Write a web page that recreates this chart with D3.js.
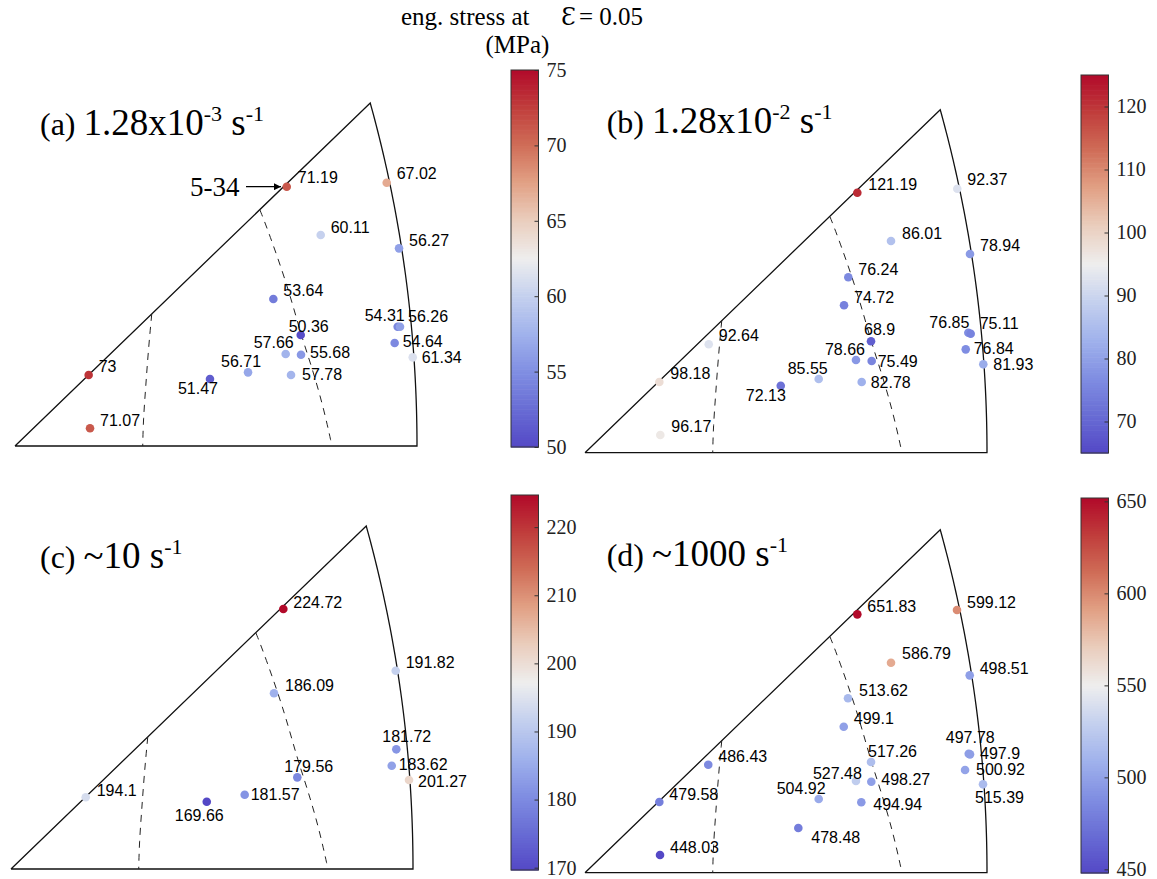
<!DOCTYPE html>
<html><head><meta charset="utf-8">
<script src="https://cdn.jsdelivr.net/npm/d3@7"></script>
<style>
body{margin:0;background:#fff}
svg{display:block}
text{white-space:pre}
</style>
</head><body>
<svg id="chart" width="1157" height="879"></svg>
<script>
// ---------------- DATA ----------------
// (a) 1.28x10^-3 s^-1 : stress values and stereographic orientation coordinates
const valuesA = [71.19, 67.02, 60.11, 56.27, 53.64, 50.36, 54.31, 56.26, 54.64, 61.34, 57.66, 55.68, 56.71, 51.47, 57.78, 73, 71.07];
const projXA  = [0.2800, 0.3830, 0.3150, 0.3957, 0.2662, 0.2944, 0.3943, 0.3967, 0.3912, 0.4098, 0.2789, 0.2947, 0.2401, 0.2009, 0.2844, 0.0759, 0.0773];
const projYA  = [0.2767, 0.2809, 0.2251, 0.2109, 0.1569, 0.1184, 0.1273, 0.1273, 0.1099, 0.0946, 0.0982, 0.0974, 0.0786, 0.0715, 0.0758, 0.0758, 0.0189];

// (b) 1.28x10^-2 s^-1
const valuesB = [121.19, 92.37, 86.01, 78.94, 76.24, 74.72, 68.9, 76.85, 75.11, 76.84, 81.93, 78.66, 75.49, 85.55, 72.13, 82.78, 92.64, 98.18, 96.17];
const projXB  = [0.2806, 0.3836, 0.3153, 0.3967, 0.2713, 0.2669, 0.2947, 0.3950, 0.3974, 0.3923, 0.4104, 0.2792, 0.2954, 0.2408, 0.2017, 0.2851, 0.1275, 0.0766, 0.0776];
const projYB  = [0.2774, 0.2817, 0.2259, 0.2120, 0.1872, 0.1573, 0.1189, 0.1280, 0.1270, 0.1103, 0.0943, 0.0989, 0.0978, 0.0786, 0.0715, 0.0754, 0.1157, 0.0754, 0.0189];

// (c) ~10 s^-1
const valuesC = [224.72, 191.82, 186.09, 181.72, 183.62, 201.27, 179.56, 181.57, 169.66, 194.1];
const projXC  = [0.2806, 0.3964, 0.2710, 0.3970, 0.3923, 0.4101, 0.2950, 0.2408, 0.2017, 0.0770];
const projYC  = [0.2774, 0.2116, 0.1875, 0.1277, 0.1102, 0.0950, 0.0978, 0.0793, 0.0718, 0.0765];

// (d) ~1000 s^-1
const valuesD = [651.83, 599.12, 586.79, 498.51, 513.62, 499.1, 497.78, 497.9, 500.92, 515.39, 517.26, 527.48, 498.27, 504.92, 494.94, 478.48, 486.43, 479.58, 448.03];
const projXD  = [0.2806, 0.3833, 0.3153, 0.3964, 0.2710, 0.2666, 0.3954, 0.3967, 0.3916, 0.4101, 0.2947, 0.2792, 0.2950, 0.2408, 0.2847, 0.2198, 0.1270, 0.0766, 0.0773];
const projYD  = [0.2757, 0.2803, 0.2241, 0.2106, 0.1861, 0.1558, 0.1270, 0.1263, 0.1096, 0.0943, 0.1181, 0.0978, 0.0971, 0.0786, 0.0751, 0.0477, 0.1152, 0.0754, 0.0189];

// colour-bar ranges and tick labels
const domainA = [50, 75];          const ticksA = [50, 55, 60, 65, 70, 75];
const domainB = [65, 125];         const ticksB = [70, 80, 90, 100, 110, 120];
const domainC = [169.66, 224.72];  const ticksC = [170, 180, 190, 200, 210, 220];
const domainD = [448.03, 651.83];  const ticksD = [450, 500, 550, 600, 650];

// panel titles: [label, rate, exponent]
const titleA = ["(a) ", "1.28x10", "-3"];
const titleB = ["(b) ", "1.28x10", "-2"];
const titleC = ["(c) ", "~10", null];
const titleD = ["(d) ", "~1000", null];

// ---------------- LAYOUT (label offsets in px) ----------------
const offA = [[11,-9],[10,-9],[10,-8],[10,-8],[10,-8],[-12,-9],[-33,-11],[8,-10],[8,-2],[9,0],[-32,-11],[9,-2],[-27,-11],[-32,10],[11,0],[10,-8],[10,-8]];
const offB = [[11,-8],[10,-9],[11,-8],[10,-9],[10,-8],[10,-8],[-7,-12],[-39,-10],[9,-10],[8,-1],[10,0],[-31,-11],[6,0],[-31,-11],[-35,10],[9,0],[10,-9],[11,-9],[11,-8]];
const offC = [[10,-7],[10,-8],[11,-8],[-14,-13],[7,-1],[9,2],[-13,-11],[6,0],[-32,14],[11,-7]];
const offD = [[10,-8],[10,-8],[11,-9],[10,-7],[11,-8],[10,-8],[-23,-16],[10,-1],[11,0],[-8,13],[-3,-11],[-43,-8],[10,-2],[-42,-11],[12,2],[13,9],[10,-8],[10,-8],[10,-7]];

// dashed guide curves in stereographic coordinates
const guide1 = [[0.1409,0.1408],[0.1374,0.1024],[0.1347,0.0633],[0.1322,0.0277],[0.1316,0]];
const guide2 = [[0.2524,0.2518],[0.2593,0.2340],[0.2764,0.1842],[0.2868,0.1486],[0.2954,0.1166],[0.3057,0.0846],[0.3177,0.0420],[0.3266,0]];

// diverging colormap stops
const cmapStops = ["#5448c6","#686cd4","#808ee2","#a0b2ec","#c4d0ee","#eeeeee","#eacebe","#e2a286","#d06e58","#c03e3c","#b20a2a"];

const panels = [
  {v:valuesA, px:projXA, py:projYA, off:offA, x0:15,  y0:446,   cbx:511,  cby:[70,447],  dom:domainA, ticks:ticksA, title:titleA, tx:40,    ty:135},
  {v:valuesB, px:projXB, py:projYB, off:offB, x0:585, y0:452.7, cbx:1081, cby:[75,453],  dom:domainB, ticks:ticksB, title:titleB, tx:606.7, ty:133.3},
  {v:valuesC, px:projXC, py:projYC, off:offC, x0:11,  y0:869,   cbx:511,  cby:[495,870], dom:domainC, ticks:ticksC, title:titleC, tx:40,    ty:568},
  {v:valuesD, px:projXD, py:projYD, off:offD, x0:585, y0:872.7, cbx:1081, cby:[498,873], dom:domainD, ticks:ticksD, title:titleD, tx:606.7, ty:566}
];

const svg = d3.select("#chart");
const SERIF = "'Liberation Serif','Times New Roman',serif";
const SANS = "'Liberation Sans',Arial,sans-serif";

const cmap = d3.scaleLinear()
  .domain(d3.range(cmapStops.length).map(i => i/(cmapStops.length-1)))
  .range(cmapStops).interpolate(d3.interpolateRgb).clamp(true);

// boundary of the standard triangle 001-101-111 (arc = projected great circle x=z)
const r2 = Math.SQRT2;
const arcPts = d3.range(0, 61).map(i => {
  const t = (15*Math.PI/180) * i/60;
  return [-1 + r2*Math.cos(t), r2*Math.sin(t)];
});
const p111 = [-1 + r2*Math.cos(Math.PI/12), r2*Math.sin(Math.PI/12)];
const p101 = [r2-1, 0];

panels.forEach(P => {
  const g = svg.append("g");
  const x = d3.scaleLinear().domain([0, p101[0]]).range([P.x0, P.x0 + 402]);
  const y = d3.scaleLinear().domain([0, p111[1]]).range([P.y0, P.y0 - 343]);
  const line = d3.line().x(d => x(d[0])).y(d => y(d[1]));

  const outline = [[0,0], ...arcPts, [0,0]];
  g.append("path").attr("d", line(outline)).attr("fill","none")
    .attr("stroke","#111").attr("stroke-width",1.3).attr("stroke-linejoin","miter");

  const gl = d3.line().x(d => x(d[0])).y(d => y(d[1])).curve(d3.curveBasis);
  [guide1, guide2].forEach(gd => {
    g.append("path").attr("d", gl(gd)).attr("fill","none")
      .attr("stroke","#222").attr("stroke-width",1).attr("stroke-dasharray","7,6");
  });

  const cs = d3.scaleLinear().domain(P.dom).range([0,1]);
  const idx = d3.range(P.v.length);

  g.selectAll("circle.pt").data(idx).join("circle")
    .attr("cx", i => x(P.px[i])).attr("cy", i => y(P.py[i]))
    .attr("r", 4.3).attr("fill", i => cmap(cs(P.v[i])));

  g.selectAll("text.lbl").data(idx).join("text")
    .attr("x", i => x(P.px[i]) + P.off[i][0])
    .attr("y", i => y(P.py[i]) + P.off[i][1])
    .attr("dominant-baseline","central")
    .attr("font-family", SANS).attr("font-size", 16).attr("fill","#000")
    .text(i => String(P.v[i]));

  const t = g.append("text").attr("x", P.tx).attr("y", P.ty)
    .attr("font-family", SERIF).attr("fill","#000");
  t.append("tspan").attr("font-size", 32).text(P.title[0]);
  t.append("tspan").attr("font-size", 37).text(P.title[1]);
  if (P.title[2]) {
    t.append("tspan").attr("font-size", 22).attr("dy", -14).text(P.title[2]);
    t.append("tspan").attr("font-size", 37).attr("dy", 14).text(" s");
  } else {
    t.append("tspan").attr("font-size", 37).text(" s");
  }
  t.append("tspan").attr("font-size", 22).attr("dy", -14).text("-1");

  const cbW = 27.5;
  const cy = d3.scaleLinear().domain(P.dom).range([P.cby[1], P.cby[0]]);
  const N = 150;
  const step = (P.dom[1]-P.dom[0])/N;
  g.selectAll("rect.cb").data(d3.range(N)).join("rect")
    .attr("x", P.cbx).attr("width", cbW)
    .attr("y", i => cy(P.dom[0] + (i+1)*step))
    .attr("height", i => cy(P.dom[0] + i*step) - cy(P.dom[0] + (i+1)*step) + 0.6)
    .attr("fill", i => cmap(cs(P.dom[0] + (i+0.5)*step)));
  g.append("rect").attr("x", P.cbx).attr("y", P.cby[0]).attr("width", cbW)
    .attr("height", P.cby[1]-P.cby[0]).attr("fill","none")
    .attr("stroke","#333").attr("stroke-width",1);
  const ax = g.append("g").attr("transform", `translate(${P.cbx + cbW},0)`)
    .call(d3.axisRight(cy).tickValues(P.ticks).tickSizeInner(-4).tickSizeOuter(0).tickPadding(8));
  ax.select(".domain").remove();
  ax.selectAll(".tick line").attr("stroke","#333");
  ax.selectAll(".tick text").attr("font-family", SERIF).attr("font-size", 20).attr("fill","#222");
});

// colour bar title
svg.append("text").attr("x", 401).attr("y", 25).attr("font-family", SERIF).attr("font-size", 25)
  .text("eng. stress at");
svg.append("text").attr("x", 561).attr("y", 25).attr("font-family", "'DejaVu Serif',serif").attr("font-size", 24)
  .text("Ɛ");
svg.append("text").attr("x", 643).attr("y", 25).attr("text-anchor","end").attr("font-family", SERIF).attr("font-size", 25)
  .text("= 0.05");
svg.append("text").attr("x", 517.5).attr("y", 53).attr("text-anchor","middle").attr("font-family", SERIF).attr("font-size", 25)
  .text("(MPa)");

// 5-34 annotation
svg.append("defs").append("marker").attr("id","ah").attr("viewBox","0 0 10 10")
  .attr("refX",10).attr("refY",5).attr("markerWidth",9).attr("markerHeight",7)
  .attr("markerUnits","userSpaceOnUse").attr("orient","auto")
  .append("path").attr("d","M0,0 L10,5 L0,10 Z").attr("fill","#000");
svg.append("line").attr("x1",246).attr("y1",186.7).attr("x2",281).attr("y2",186.7)
  .attr("stroke","#000").attr("stroke-width",1.2).attr("marker-end","url(#ah)");
svg.append("text").attr("x",190).attr("y",196).attr("font-family",SERIF).attr("font-size",27).text("5-34");
</script>
</body></html>
